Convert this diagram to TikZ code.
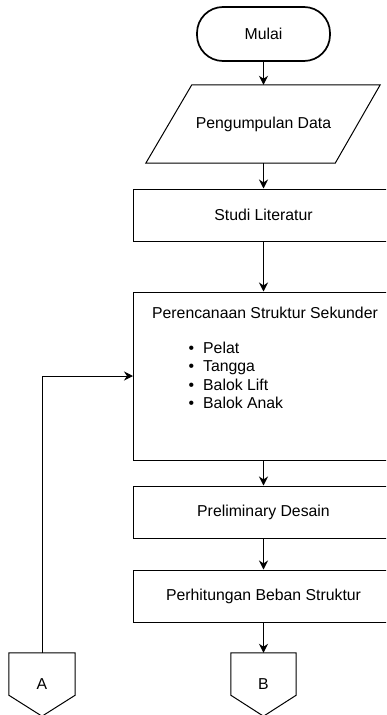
\documentclass[tikz,border=0pt]{standalone}
\usepackage{fontspec}
\setmainfont{Liberation Sans}
\usetikzlibrary{arrows.meta,calc}
\begin{document}
\begin{tikzpicture}[x=1pt,y=-1pt,
  every node/.style={font=\fontsize{15.8}{18.5}\selectfont, text=black},
  proc/.style={draw, fill=white, line width=1pt, minimum width=260pt, minimum height=52pt, inner sep=0pt},
  ghost/.style={inner sep=0pt},
  arr/.style={line width=1pt, -{Stealth[length=9pt,width=9pt]}},
  ln/.style={line width=1pt}]
\useasboundingbox (0,0) rectangle (386,715);
\clip (0,0) rectangle (386,715);

% start
\node[draw, fill=white, line width=1.7pt, rounded corners=26pt, minimum width=133pt, minimum height=54pt, inner sep=0pt] (start) at (263.5,34) {Mulai};

% data (parallelogram)
\node[ghost, minimum width=143pt, minimum height=78pt] (data) at (263.5,124) {Pengumpulan Data};
\draw[ln] (data.north west) -- ([xshift=45pt]data.north east) -- (data.south east) -- ([xshift=-46pt]data.south west) -- cycle;

% process boxes
\node[proc] (studi) at (263.5,215) {Studi Literatur};
\node[proc, minimum height=168pt] (plan) at (263.5,376) {};
\node[anchor=base, inner sep=0pt] (plantitle) at (265,318) {Perencanaan Struktur Sekunder};
\node[anchor=base west, inner sep=0pt] (b1) at (188.5,353) {\makebox[14.5pt][l]{\textbullet}Pelat};
\node[anchor=base west, inner sep=0pt] (b2) at (188.5,371.5) {\makebox[14.5pt][l]{\textbullet}Tangga};
\node[anchor=base west, inner sep=0pt] (b3) at (188.5,390) {\makebox[14.5pt][l]{\textbullet}Balok Lift};
\node[anchor=base west, inner sep=0pt] (b4) at (188.5,408.5) {\makebox[14.5pt][l]{\textbullet}Balok Anak};
\node[proc] (prelim) at (263.5,512) {Preliminary Desain};
\node[proc] (beban) at (263.5,596) {Perhitungan Beban Struktur};

% off-page connectors
\node[ghost, minimum width=66pt, minimum height=63pt] (A) at (42,684.5) {A};
\draw[ln] (A.north west) -- (A.north east) -- ([yshift=21pt]A.south east) -- (A.south) -- ([yshift=21pt]A.south west) -- cycle;
\node[ghost, minimum width=65pt, minimum height=63pt] (B) at (263.5,684.5) {B};
\draw[ln] (B.north west) -- (B.north east) -- ([yshift=21pt]B.south east) -- (B.south) -- ([yshift=21pt]B.south west) -- cycle;

% connectors
\draw[arr] (start) -- (data);
\draw[arr] (data) -- (studi);
\draw[arr] (studi) -- (plan);
\draw[arr] (plan) -- (prelim);
\draw[arr] (prelim) -- (beban);
\draw[arr] (beban) -- (B);
\draw[arr] (A.north) |- (plan.west);
\end{tikzpicture}
\end{document}
